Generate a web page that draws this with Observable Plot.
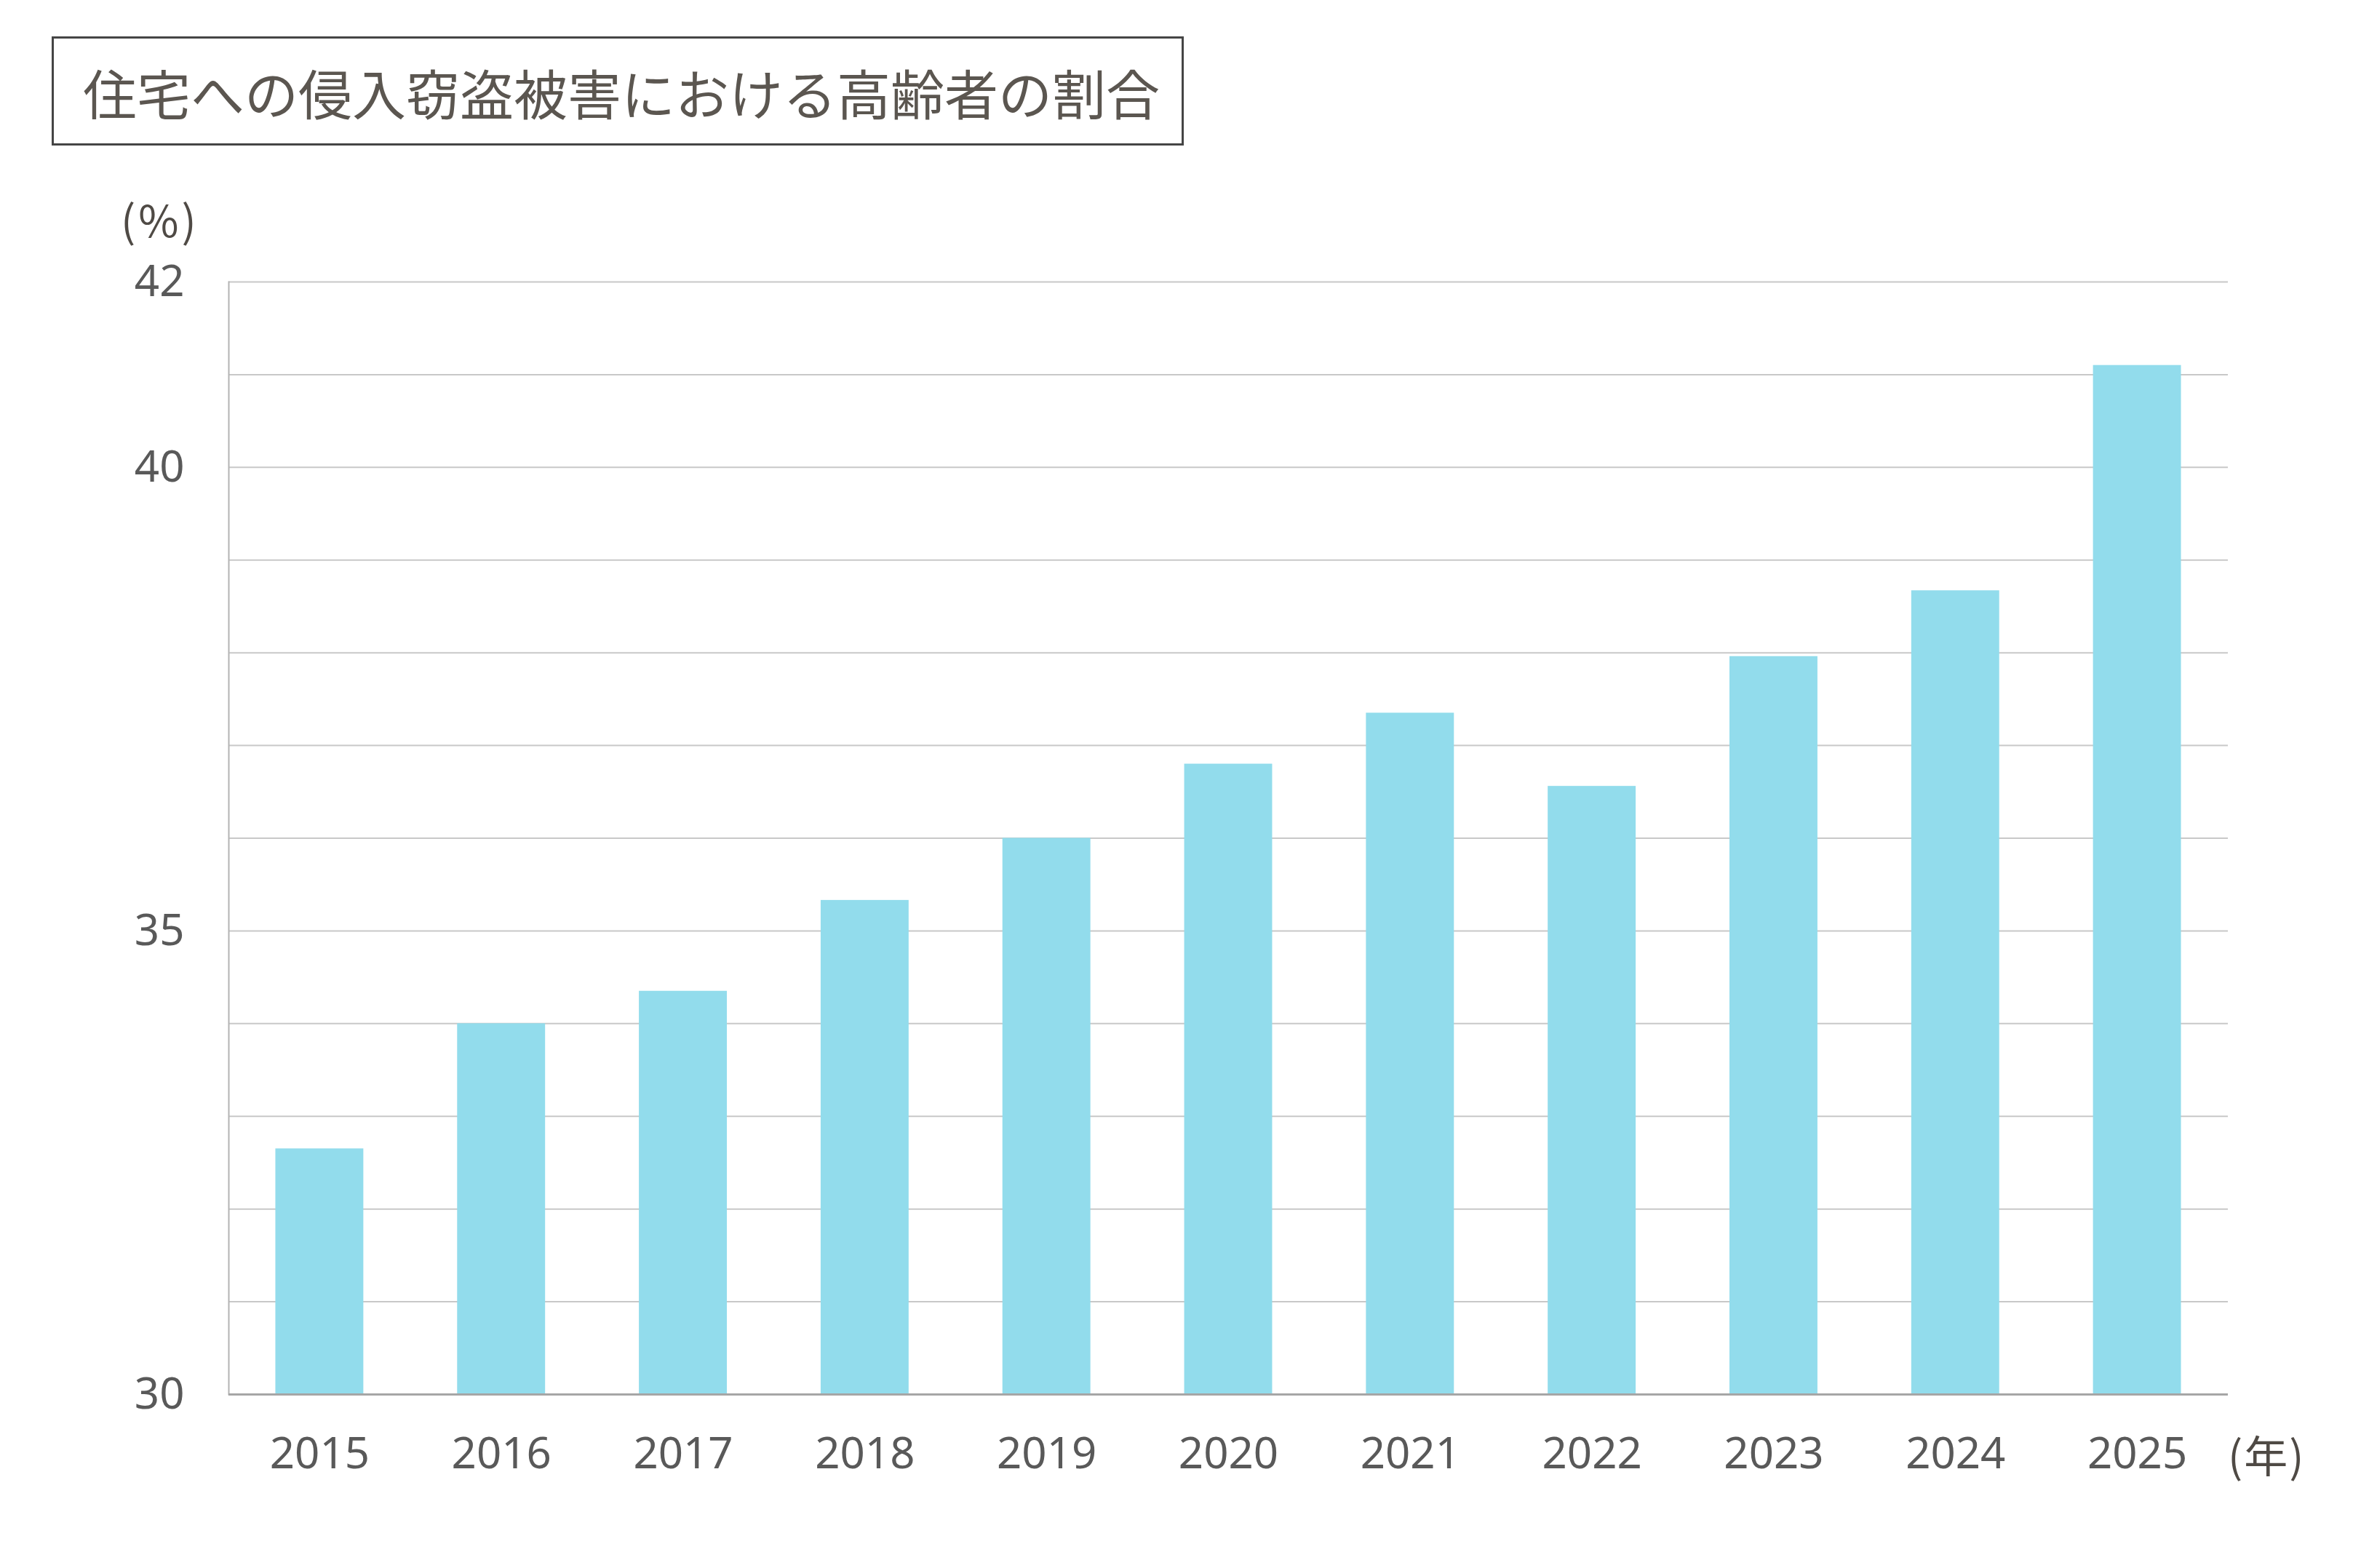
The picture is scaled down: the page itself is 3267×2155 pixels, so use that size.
<!DOCTYPE html>
<html>
<head>
<meta charset="utf-8">
<script src="https://cdn.jsdelivr.net/npm/d3@7"></script>
<script src="https://cdn.jsdelivr.net/npm/@observablehq/plot@0.6"></script>
<style>
  html, body { margin: 0; padding: 0; background: #ffffff; }
  body { width: 3267px; height: 2155px; position: relative; overflow: hidden; }
  #title {
    position: absolute; left: 71px; top: 50px;
    width: 1550px; height: 144px;
    border: 3px solid #454545;
    display: flex; align-items: center;
    padding-left: 0; box-sizing: content-box;
    font-family: "Noto Sans CJK JP", sans-serif; font-size: 74px; color: #5b5650;
    white-space: nowrap;
  }
  #title span { margin-left: 40px; }
  #chart { position: absolute; left: 0; top: 0; }
  .unit { position: absolute; font-family: "Noto Sans CJK JP", "Noto Sans", sans-serif; font-size: 60px; line-height: 60px; color: #4f4a45; white-space: nowrap; }
  #yunit { left: 166px; top: 270px; letter-spacing: 4px; }
  #xunit { left: 3062px; top: 1968px; letter-spacing: 2px; }
</style>
</head>
<body>
<div id="chart"></div>
<div id="title"><span>住宅への侵入窃盗被害における高齢者の割合</span></div>
<div class="unit" id="yunit">(%)</div>
<div class="unit" id="xunit">(年)</div>
<script>
const years = ["2015", "2016", "2017", "2018", "2019", "2020", "2021", "2022", "2023", "2024", "2025"];
const values = [32.65, 34.0, 34.35, 35.33, 36.0, 36.8, 37.35, 36.56, 37.96, 38.67, 41.1];
const yTickLabels = [30, 35, 40, 42];
const gridTicks = [30, 31, 32, 33, 34, 35, 36, 37, 38, 39, 40, 41, 42];
const yDomain = [30, 42];

const data = years.map((year, i) => ({year, value: values[i]}));

const chart = Plot.plot({
  width: 3267,
  height: 2155,
  marginLeft: 314,
  marginRight: 205,
  marginTop: 387,
  marginBottom: 239,
  style: {fontFamily: "'Noto Sans', 'Open Sans', sans-serif", fontSize: "60px", background: "transparent", overflow: "visible"},
  x: {domain: years, paddingInner: 0.516, paddingOuter: 0.258, round: false, label: null},
  y: {domain: yDomain, label: null},
  marks: [
    Plot.ruleY(gridTicks, {stroke: "#c8c8c8", strokeWidth: 2}),
    Plot.barY(data, {x: "year", y1: yDomain[0], y2: "value", fill: "#92dcec"}),
    Plot.frame({anchor: "left", stroke: "#b3b3b3", strokeWidth: 2}),
    Plot.ruleY([yDomain[0]], {stroke: "#a6a6a6", strokeWidth: 3}),
    Plot.axisY(yTickLabels, {tickSize: 0, tickPadding: 61, tickFormat: d3.format("d"), fill: "#595959", fontSize: 60, label: null}),
    Plot.axisX({tickSize: 0, tickPadding: 59, fill: "#595959", fontSize: 60, label: null})
  ]
});
document.getElementById("chart").appendChild(chart);
</script>
</body>
</html>
